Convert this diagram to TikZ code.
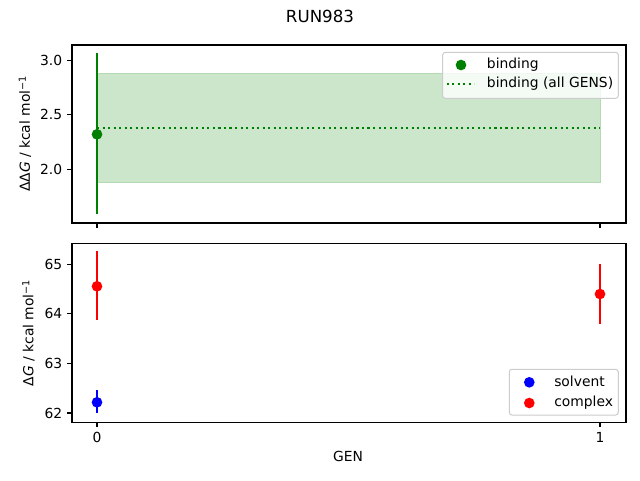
\documentclass[tikz,border=0pt]{standalone}
\usepackage{fontspec}
\setmainfont{DejaVu Sans}
\begin{document}
\begin{tikzpicture}[x=0.75pt,y=-0.75pt,
  every node/.style={inner sep=0pt,font=\fontsize{10.4}{12}\selectfont},
  frame/.style={line width=0.8pt,black},
  tick/.style={line width=0.8pt,black},
  ebar/.style={line width=1.56pt},
  dot/.style={circle,minimum size=8pt,inner sep=0pt},
  legbox/.style={draw={rgb,255:red,204;green,204;blue,204},line width=0.75pt,fill=white,fill opacity=0.8,rounded corners=2pt}]
\definecolor{mgreen}{RGB}{0,128,0}
\definecolor{mfill}{RGB}{204,230,204}
\definecolor{mfilledge}{RGB}{180,218,180}
\useasboundingbox (0,0) rectangle (640,480);
\fill[white] (0,0) rectangle (640,480);
% title
\node[font=\fontsize{12.5}{14}\selectfont] (title) at (320,16.5) {RUN983};
% ---------- top axes ----------
\fill[mfill,draw=mfilledge,line width=0.75pt] (97,73.7) rectangle (600,182.7);
\draw[mgreen,line width=1.56pt,dash pattern=on 1.56pt off 2.58pt] (97,128) -- (600,128);
\draw[ebar,mgreen] (97,53.3) -- (97,214.3);
\node[dot,fill=mgreen] (b0) at (97,134.3) {};
\draw[frame] (72,45) rectangle (626,223);
% ticks top
\foreach \y/\l in {60.3/3.0,114.8/2.5,169.3/2.0}{
  \draw[tick] (72,\y) -- (67.1,\y);
  \node[anchor=east] at (62.5,\y) {\l};
}
\draw[tick] (97,223) -- (97,227.9);
\draw[tick] (600,223) -- (600,227.9);
% legend top
\draw[legbox] (442.7,52.3) rectangle (618.3,98.3);
\node[dot,fill=mgreen] (lb) at (461,65) {};
\node[anchor=west] (lbt) at (486.7,65) {binding};
\draw[mgreen,line width=1.56pt,dash pattern=on 1.56pt off 2.58pt] (446.7,84) -- (474.3,84);
\node[anchor=west] (lat) at (486.7,84) {binding (all GENS)};
% y label top
\node[rotate=90] (ylt) at (25,134) {ΔΔ\textit{G} / kcal mol\raisebox{0.55ex}{\fontsize{7.3}{8}\selectfont −1}};
% ---------- bottom axes ----------
\draw[ebar,red] (97,251) -- (97,320.3);
\node[dot,fill=red] (c0) at (97,286.3) {};
\draw[ebar,blue] (97,390) -- (97,413.3);
\node[dot,fill=blue] (s0) at (97,402.3) {};
\draw[ebar,red] (600,264) -- (600,323.7);
\node[dot,fill=red] (c1) at (600,294) {};
\draw[frame] (72,243.3) rectangle (626,422.3);
\foreach \y/\l in {264.3/65,313.9/64,363.4/63,413/62}{
  \draw[tick] (72,\y) -- (67.1,\y);
  \node[anchor=east] at (62.5,\y) {\l};
}
\draw[tick] (97,422.3) -- (97,427.2);
\draw[tick] (600,422.3) -- (600,427.2);
\node (x0) at (97,437.5) {0};
\node (x1) at (600,437.5) {1};
% legend bottom
\draw[legbox] (509.3,369.3) rectangle (618.3,415);
\node[dot,fill=blue] (ls) at (529.3,382.3) {};
\node[anchor=west] (lst) at (554,381.5) {solvent};
\node[dot,fill=red] (lc) at (529.3,403) {};
\node[anchor=west] (lct) at (554,402.5) {complex};
% labels
\node[rotate=90] (ylb) at (28.5,333) {Δ\textit{G} / kcal mol\raisebox{0.55ex}{\fontsize{7.3}{8}\selectfont −1}};
\node (gen) at (348,456.5) {GEN};
\end{tikzpicture}
\end{document}
